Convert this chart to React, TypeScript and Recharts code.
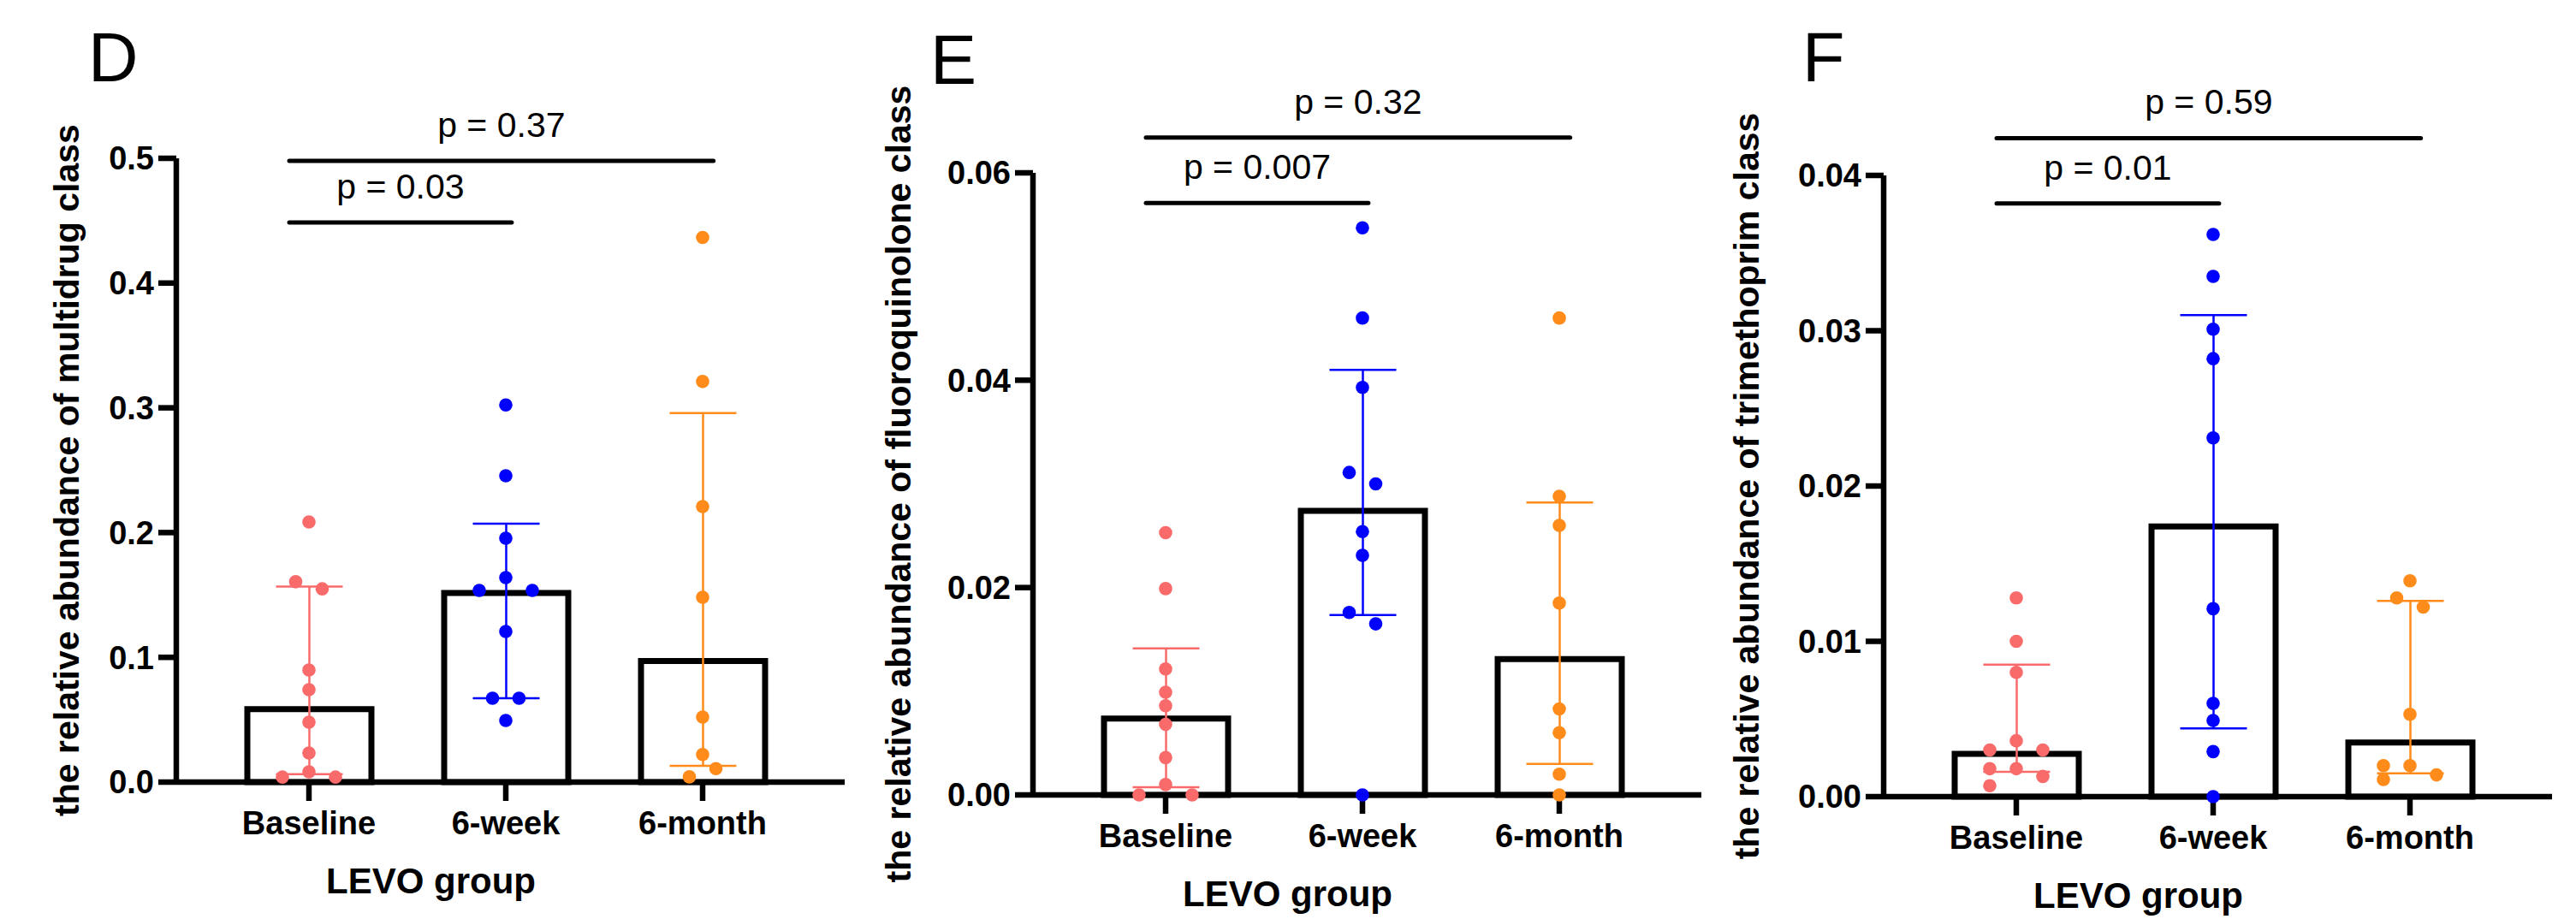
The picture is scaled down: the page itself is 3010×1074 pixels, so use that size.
import React from 'react';
import { Bar, ComposedChart, ErrorBar, ReferenceLine, Scatter, XAxis, YAxis } from 'recharts';

// Arial-metric font, GraphPad-ish palette
const FONT = '"Liberation Sans", Arial, Helvetica, sans-serif';
const COLORS = ['#F96B6B', '#0000FF', '#FF8B1A'];
const GROUPS = ['Baseline', '6-week', '6-month'];

// points are [value, lane]; lane = horizontal beeswarm slot (-2..2) around the group centre

// D — multidrug class
const D_BAR = [0.0585, 0.1516, 0.097];
const D_LOW = [0.0064, 0.0672, 0.0131];
const D_HIGH = [0.1568, 0.2072, 0.2958];
const D_BASELINE = [[0.2085, 0], [0.1606, -1], [0.1549, 1], [0.0899, 0], [0.0741, 0], [0.048, 0], [0.0233, 0], [0.0082, 0], [0.004, -2], [0.004, 2]];
const D_WEEK = [[0.3023, 0], [0.2455, 0], [0.1955, 0], [0.1639, 0], [0.1536, -2], [0.1536, 2], [0.1207, 0], [0.0672, -1], [0.0672, 1], [0.0494, 0]];
const D_MONTH = [[0.4366, 0], [0.3211, 0], [0.2208, 0], [0.1481, 0], [0.0521, 0], [0.0221, 0], [0.0108, 1], [0.0042, -1]];
const D_TICKS = [0, 0.1, 0.2, 0.3, 0.4, 0.5];
const D_P = ['p = 0.03', 'p = 0.37'];
const D_P_LEVEL = [0.4486, 0.498];

// E — fluoroquinolone class
const E_BAR = [0.00736, 0.0274, 0.0131];
const E_LOW = [0.00074, 0.01736, 0.003];
const E_HIGH = [0.01413, 0.041, 0.0282];
const E_BASELINE = [[0.0253, 0], [0.0199, 0], [0.01215, 0], [0.0099, 0], [0.0086, 0], [0.0068, 0], [0.0036, 0], [0.001, 0], [0, -2], [0, 2]];
const E_WEEK = [[0.0547, 0], [0.046, 0], [0.0393, 0], [0.0311, -1], [0.03, 1], [0.0254, 0], [0.0231, 0], [0.0176, -1], [0.0165, 1], [0, 0]];
const E_MONTH = [[0.046, 0], [0.0288, 0], [0.026, 0], [0.0185, 0], [0.0083, 0], [0.006, 0], [0.002, 0], [0, 0]];
const E_TICKS = [0, 0.02, 0.04, 0.06];
const E_P = ['p = 0.007', 'p = 0.32'];
const E_P_LEVEL = [0.0571, 0.0634];

// F — trimethoprim class
const F_BAR = [0.00276, 0.0174, 0.00348];
const F_LOW = [0.0016, 0.0044, 0.0015];
const F_HIGH = [0.0085, 0.031, 0.0126];
const F_BASELINE = [[0.0128, 0], [0.01, 0], [0.008, 0], [0.0036, 0], [0.003, -2], [0.003, 2], [0.0018, 0], [0.0018, -2], [0.0013, 2], [0.0007, -2]];
const F_WEEK = [[0.0362, 0], [0.0335, 0], [0.0301, 0], [0.0282, 0], [0.0231, 0], [0.0121, 0], [0.006, 0], [0.0049, 0], [0.0029, 0], [0, 0]];
const F_MONTH = [[0.0139, 0], [0.0128, -1], [0.0122, 1], [0.0053, 0], [0.002, -2], [0.002, 0], [0.0014, 2], [0.0011, -2]];
const F_TICKS = [0, 0.01, 0.02, 0.03, 0.04];
const F_P = ['p = 0.01', 'p = 0.59'];
const F_P_LEVEL = [0.0382, 0.0424];

const W = 1000;
const H = 1074;
const PLOT_W = 781;
const PAD = { left: 40, right: 51 };
const LANE = 0.0674; // one swarm slot in category units
const X_AXIS_H = 140;

type Box = { left: number; plotLeft: number; plotTop: number; plotBottom: number; yLabelDx: number; letterX: number; letterY: number };

function Panel({
  letter, yLabel, bars, lows, highs, points, ticks, digits, pLabels, pLevels, box,
}: {
  letter: string; yLabel: string; bars: number[]; lows: number[]; highs: number[];
  points: number[][][]; ticks: number[]; digits: number; pLabels: string[]; pLevels: number[]; box: Box;
}) {
  const rows = GROUPS.map((g, i) => {
    const r: Record<string, any> = { group: g };
    r[`v${i}`] = bars[i];
    r[`e${i}`] = [bars[i] - lows[i], highs[i] - bars[i]];
    return r;
  });
  const axisStyle = { stroke: '#000', strokeWidth: 6.5 };
  const tickFont = { fontSize: 38, fontWeight: 700, fill: '#000', fontFamily: FONT };
  return (
    <div style={{ position: 'absolute', left: box.left, top: 0, width: W, height: H }}>
      <div style={{ position: 'absolute', left: box.letterX, top: box.letterY - 68.6, fontSize: 81, lineHeight: '81px', fontFamily: FONT, color: '#000' }}>
        {letter}
      </div>
      <ComposedChart
        width={W}
        height={H}
        data={rows}
        margin={{ top: box.plotTop, right: W - box.plotLeft - PLOT_W, bottom: H - box.plotBottom - X_AXIS_H, left: 0 }}
      >
        <XAxis
          xAxisId="c"
          dataKey="group"
          padding={PAD}
          height={X_AXIS_H}
          interval={0}
          axisLine={axisStyle}
          tickLine={axisStyle}
          tickSize={22}
          tickMargin={12}
          tick={tickFont}
          label={{ value: 'LEVO group', position: 'insideBottom', offset: 10, dx: -93, fontSize: 42, fontWeight: 700, fill: '#000', fontFamily: FONT }}
        />
        <XAxis xAxisId="n" dataKey="x" type="number" domain={[0.5, 3.5]} allowDataOverflow padding={PAD} hide />
        <YAxis
          yAxisId="v"
          width={box.plotLeft}
          domain={[0, ticks[ticks.length - 1]]}
          ticks={ticks}
          interval={0}
          tickFormatter={(v: number) => v.toFixed(digits)}
          axisLine={axisStyle}
          tickLine={axisStyle}
          tickSize={21}
          tickMargin={5}
          tick={tickFont}
          label={{ value: yLabel, angle: -90, position: 'center', dx: box.yLabelDx, fontSize: 41, fontWeight: 700, fill: '#000', fontFamily: FONT }}
        />
        {GROUPS.map((g, i) => (
          <Bar
            key={g}
            xAxisId="c"
            yAxisId="v"
            dataKey={`v${i}`}
            stackId="s"
            fill="#fff"
            stroke="#000"
            strokeWidth={7}
            barSize={145}
            isAnimationActive={false}
          >
            <ErrorBar dataKey={`e${i}`} direction="y" width={39} stroke={COLORS[i]} strokeWidth={2.5} />
          </Bar>
        ))}
        {points.map((pts, i) => (
          <Scatter
            key={GROUPS[i]}
            xAxisId="n"
            yAxisId="v"
            data={pts.map(([v, lane]) => ({ x: i + 1 + lane * LANE, y: v }))}
            dataKey="y"
            fill={COLORS[i]}
            isAnimationActive={false}
            shape={(p: any) => <circle cx={p.cx} cy={p.cy} r={7.8} fill={COLORS[i]} />}
          />
        ))}
        {pLabels.map((t, k) => (
          <ReferenceLine
            key={t}
            xAxisId="n"
            yAxisId="v"
            ifOverflow="visible"
            segment={[{ x: 0.9, y: pLevels[k] }, { x: k === 0 ? 2.03 : 3.055, y: pLevels[k] }]}
            stroke="#000"
            strokeWidth={5}
            strokeLinecap="round"
            label={{ value: t, position: 'top', offset: 28, fontSize: 41, fill: '#000', fontFamily: FONT }}
          />
        ))}
      </ComposedChart>
    </div>
  );
}

export default function App() {
  return (
    <div style={{ position: 'absolute', left: 0, top: 0, width: 3010, height: H, background: '#fff', overflow: 'hidden' }}>
      <Panel
        letter="D"
        yLabel="the relative abundance of multidrug class"
        bars={D_BAR} lows={D_LOW} highs={D_HIGH}
        points={[D_BASELINE, D_WEEK, D_MONTH]}
        ticks={D_TICKS} digits={1}
        pLabels={D_P} pLevels={D_P_LEVEL}
        box={{ left: 0, plotLeft: 206, plotTop: 185, plotBottom: 914, yLabelDx: -26, letterX: 103, letterY: 96 }}
      />
      <Panel
        letter="E"
        yLabel="the relative abundance of fluoroquinolone class"
        bars={E_BAR} lows={E_LOW} highs={E_HIGH}
        points={[E_BASELINE, E_WEEK, E_MONTH]}
        ticks={E_TICKS} digits={2}
        pLabels={E_P} pLevels={E_P_LEVEL}
        box={{ left: 1000, plotLeft: 207, plotTop: 202, plotBottom: 929, yLabelDx: -54, letterX: 87, letterY: 99 }}
      />
      <Panel
        letter="F"
        yLabel="the relative abundance of trimethoprim class"
        bars={F_BAR} lows={F_LOW} highs={F_HIGH}
        points={[F_BASELINE, F_WEEK, F_MONTH]}
        ticks={F_TICKS} digits={2}
        pLabels={F_P} pLevels={F_P_LEVEL}
        box={{ left: 2000, plotLeft: 201, plotTop: 205, plotBottom: 931, yLabelDx: -60, letterX: 106, letterY: 96 }}
      />
    </div>
  );
}
